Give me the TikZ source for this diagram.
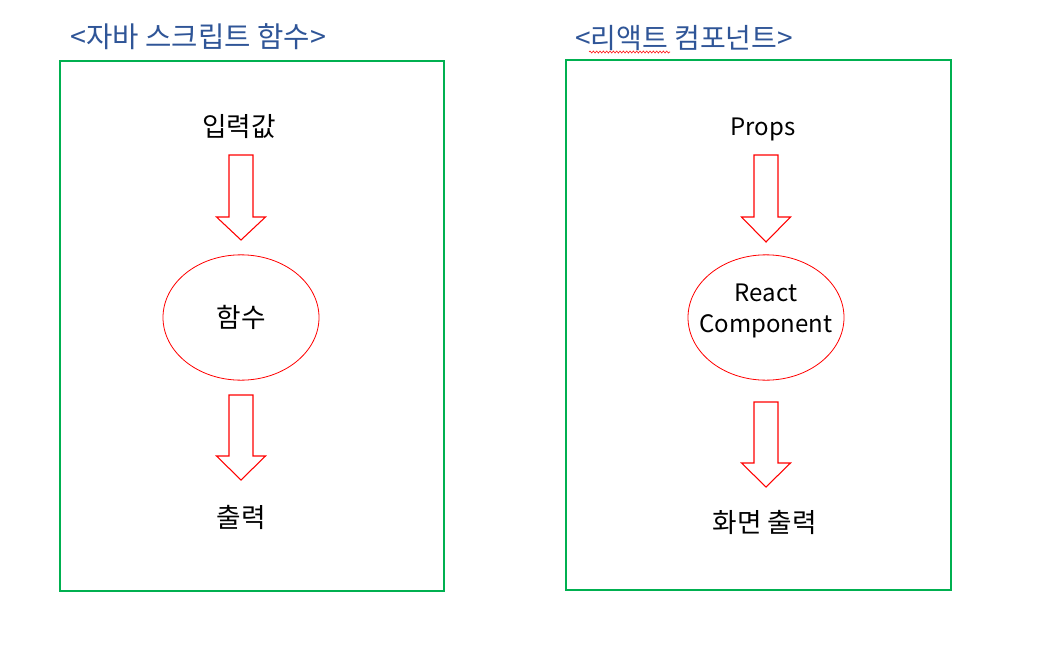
\documentclass[tikz,border=0pt]{standalone}
\usepackage{fontspec}
\setmainfont{Noto Sans CJK KR}
\usetikzlibrary{shapes.geometric,decorations.pathmorphing}
\definecolor{titleblue}{HTML}{2F5597}
\definecolor{boxgreen}{HTML}{00B050}
\tikzset{
  frame/.style={draw=boxgreen, line width=0.8pt},
  title/.style={text=titleblue, inner sep=0pt},
  label/.style={font=\fontsize{20}{23}\selectfont, inner sep=0pt, align=center},
  latin/.style={font=\fontsize{18}{23}\selectfont, inner sep=0pt, align=center},
  func/.style={draw=red, ellipse, line width=0.6pt, minimum width=117pt, minimum height=94pt},
  blockarrow/.style={draw=red, line width=0.8pt, line join=miter}
}
\newcommand{\downblock}[4]{%
  \draw[blockarrow] ({#1-12},#2) -- ({#1+12},#2) -- ({#1+12},#3) -- ({#1+24.5},#3)
    -- (#1,#4) -- ({#1-24.5},#3) -- ({#1-12},#3) -- cycle;}
\begin{document}
\begin{tikzpicture}[x=0.75pt, y=-0.75pt]
  \useasboundingbox (0,0) rectangle (1039,653);
  % left: javascript function
  \draw[frame] (60,61) rectangle (444,591);
  \node[title, anchor=west, font=\fontsize{21.5}{24}\selectfont] (jstitle) at (70,37) {<자바 스크립트 함수>};
  \node[label] (input) at (239,127) {입력값};
  \node[func] (func) at (241,317.5) {};
  \node[label] at (func) {함수};
  \node[label] (output) at (241,517) {출력};
  \downblock{241}{155}{217}{240}
  \downblock{241}{395}{456}{480}
  % right: react component
  \draw[frame] (566,60) rectangle (951,590);
  \node[title, anchor=west, font=\fontsize{21}{24}\selectfont] (retitle) at (575,38) {<리액트 컴포넌트>};
  \draw[red, line width=0.4pt, decorate, decoration={snake, amplitude=0.8pt, segment length=2.5pt}] (589,52) -- (670,52);
  \node[latin] (props) at (763,129) {Props};
  \node[func] (comp) at (766,317.5) {};
  \node[latin] at (766,311) {React\\Component};
  \node[label] (screen) at (765,522) {화면 출력};
  \downblock{766}{155}{217}{242}
  \downblock{766}{402}{463}{487}
\end{tikzpicture}
\end{document}
